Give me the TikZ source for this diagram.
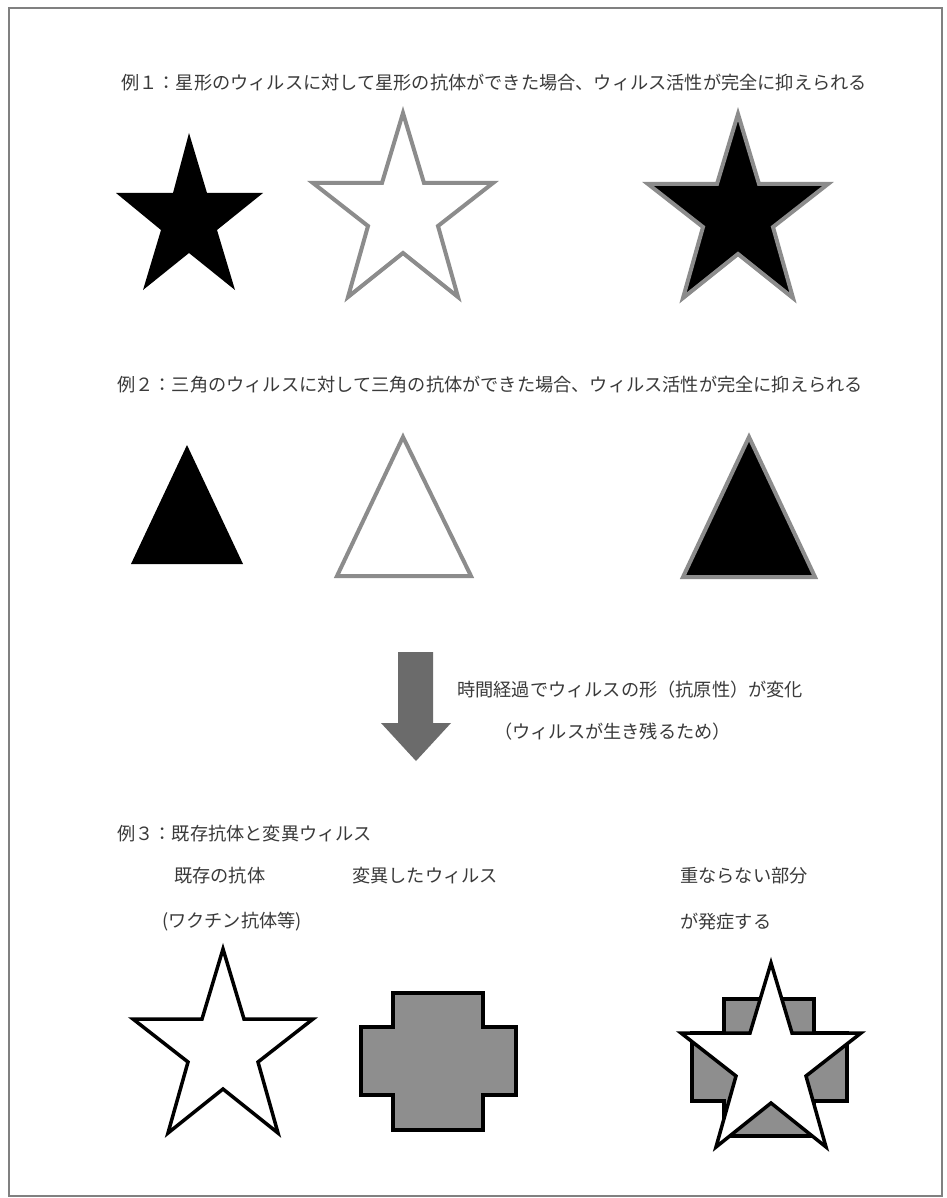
\documentclass[tikz,border=0pt]{standalone}
\usepackage{fontspec}
\newfontfamily\jp{Noto Sans CJK JP}
\definecolor{outlinegray}{HTML}{8C8C8C}
\definecolor{arrowgray}{HTML}{6B6B6B}
\definecolor{crossgray}{HTML}{8E8E8E}
\definecolor{txtcol}{HTML}{3A3A3A}
\begin{document}
\begin{tikzpicture}[x=1pt,y=-1pt,
  txt/.style={font=\jp\fontsize{18.2}{20}\selectfont, text=txtcol, inner sep=0pt, anchor=west},
  blackshape/.style={fill=black, draw=none},
  grayoutline/.style={draw=outlinegray, line width=4pt, fill=white, line join=miter},
  blackgray/.style={fill=black, draw=outlinegray, line width=4pt, line join=miter},
  blackoutline/.style={draw=black, line width=3.5pt, fill=white, line join=miter},
  crossshape/.style={draw=black, line width=3.5pt, fill=crossgray, line join=miter},
  arrowshape/.style={fill=arrowgray, draw=none}]
\useasboundingbox (0,0) rectangle (946,1198);
\fill[white] (0,0) rectangle (946,1198);
\draw[gray, line width=1.5pt] (9,8) rectangle (942,1196);
\def\starpath{(0,0) -- (21,70) -- (90,70) -- (35,113) -- (55,184) -- (0,140) -- (-55,184) -- (-35,113) -- (-90,70) -- (-21,70) -- cycle}
\def\crosspath{(393,993) -- (483,993) -- (483,1027) -- (516,1027) -- (516,1095) -- (483,1095) -- (483,1130) -- (393,1130) -- (393,1095) -- (361,1095) -- (361,1027) -- (393,1027) -- cycle}

% Example 1
\node[txt] (t1) at (121,83) {例１：星形のウィルスに対して星形の抗体ができた場合、ウィルス活性が完全に抑えられる};
\fill[blackshape] (189,133) -- (207,193) -- (263,193) -- (217,230) -- (235,290) -- (189,253) -- (143,290) -- (161,230) -- (116,193) -- (173,193) -- cycle;
\begin{scope}[shift={(403,113)}]
  \draw[grayoutline] \starpath;
\end{scope}
\begin{scope}[shift={(738,114)}]
  \draw[blackgray] \starpath;
\end{scope}

% Example 2
\node[txt] (t2) at (117,385) {例２：三角のウィルスに対して三角の抗体ができた場合、ウィルス活性が完全に抑えられる};
\fill[blackshape] (187,445) -- (243,564) -- (131,564) -- cycle;
\draw[grayoutline] (403,437) -- (471,576) -- (337,576) -- cycle;
\draw[blackgray] (749,437) -- (815,577) -- (683,577) -- cycle;

% Arrow
\fill[arrowshape] (398,652) -- (433,652) -- (433,723) -- (451,723) -- (416,761) -- (381,723) -- (398,723) -- cycle;
\node[txt] (t3) at (457,690) {時間経過でウィルスの形（抗原性）が変化};
\node[txt] (t4) at (494,732) {（ウィルスが生き残るため）};

% Example 3
\node[txt] (t5) at (117,834) {例３：既存抗体と変異ウィルス};
\node[txt] (t6) at (174,876) {既存の抗体};
\node[txt] (t7) at (162,922) {(ワクチン抗体等)};
\node[txt] (t8) at (352,876) {変異したウィルス};
\node[txt] (t9) at (680,876) {重ならない部分};
\node[txt] (t10) at (680,922) {が発症する};

\begin{scope}[shift={(223,949)}]
  \draw[blackoutline] \starpath;
\end{scope}
\draw[crossshape] \crosspath;
\begin{scope}[shift={(331,6)}]
  \draw[crossshape] \crosspath;
\end{scope}
\begin{scope}[shift={(771,963)}]
  \draw[blackoutline] \starpath;
\end{scope}
\end{tikzpicture}
\end{document}
